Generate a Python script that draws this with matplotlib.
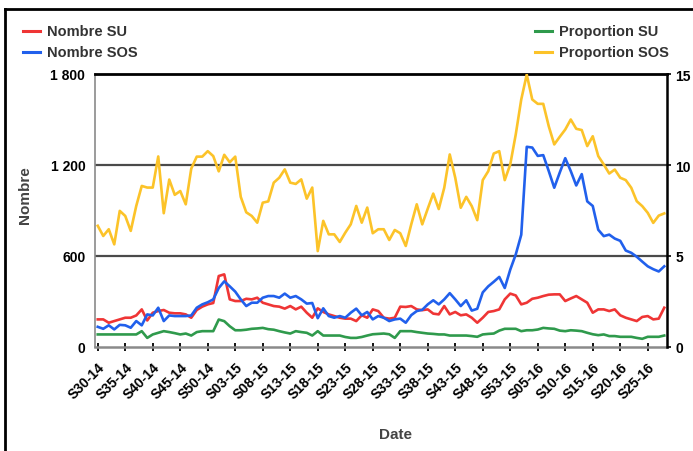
import matplotlib
matplotlib.use("Agg")
import matplotlib.pyplot as plt
from matplotlib.lines import Line2D

plt.rcParams['font.family'] = ['Liberation Sans', 'DejaVu Sans']

# Weekly data, S30-14 .. S28-16 (104 weeks)
nombre_su = [182, 182, 160, 171, 182, 193, 193, 208, 248, 175, 226, 237, 244, 226, 222, 222, 215, 193, 244, 266,
             281, 290, 468, 479, 314, 303, 303, 318, 314, 325, 292, 281, 270, 266, 253, 270, 248, 266, 226, 193,
             255, 231, 215, 204, 193, 187, 187, 171, 209, 193, 248, 237, 193, 187, 193, 266, 264, 270, 248, 243,
             248, 220, 215, 270, 215, 231, 209, 215, 193, 160, 193, 231, 237, 248, 314, 352, 340, 281, 292, 318,
             325, 336, 345, 347, 347, 303, 320, 336, 314, 292, 226, 248, 248, 237, 248, 209, 193, 182, 171, 198,
             204, 182, 187, 259]
nombre_sos = [133, 120, 143, 116, 146, 143, 127, 171, 143, 215, 208, 259, 171, 208, 204, 204, 204, 208, 259, 281,
              295, 314, 389, 433, 400, 365, 314, 270, 292, 292, 325, 336, 336, 325, 352, 325, 336, 314, 286, 290,
              190, 255, 204, 193, 204, 193, 226, 253, 209, 231, 182, 204, 193, 171, 182, 187, 160, 210, 237, 245,
              281, 308, 281, 314, 355, 314, 270, 308, 240, 252, 360, 400, 430, 462, 389, 510, 610, 740, 1320, 1315,
              1260, 1265, 1160, 1050, 1150, 1245, 1160, 1065, 1140, 960, 930, 773, 731, 741, 715, 700, 636, 621, 595, 563,
              532, 513, 498, 532]
proportion_su = [0.69, 0.69, 0.69, 0.69, 0.69, 0.69, 0.69, 0.69, 0.87, 0.5, 0.69, 0.78, 0.87, 0.82, 0.76, 0.69, 0.74, 0.63, 0.82, 0.87,
                 0.87, 0.87, 1.51, 1.42, 1.14, 0.92, 0.92, 0.95, 1.0, 1.02, 1.05, 0.98, 0.95, 0.87, 0.8, 0.74, 0.87, 0.82, 0.78, 0.63,
                 0.87, 0.63, 0.63, 0.63, 0.63, 0.55, 0.5, 0.5, 0.55, 0.63, 0.7, 0.72, 0.74, 0.7, 0.5, 0.87, 0.87, 0.87, 0.82, 0.78,
                 0.74, 0.72, 0.69, 0.69, 0.63, 0.63, 0.63, 0.63, 0.6, 0.56, 0.69, 0.72, 0.74, 0.9, 1.0, 1.0, 1.0, 0.87, 0.92, 0.92,
                 0.96, 1.05, 1.02, 1.0, 0.9, 0.87, 0.92, 0.9, 0.87, 0.78, 0.7, 0.65, 0.69, 0.6, 0.6, 0.56, 0.56, 0.56, 0.5, 0.45,
                 0.56, 0.56, 0.56, 0.63]
proportion_sos = [6.66, 6.1, 6.47, 5.64, 7.48, 7.2, 6.38, 7.75, 8.85, 8.76, 8.76, 10.47, 7.35, 9.2, 8.36, 8.57, 7.84, 9.8, 10.46, 10.46,
                  10.76, 10.49, 9.65, 10.56, 10.15, 10.46, 8.25, 7.4, 7.2, 6.83, 7.93, 8.0, 9.03, 9.3, 9.76, 9.03, 8.96, 9.21, 8.15, 8.76,
                  5.27, 6.93, 6.19, 6.19, 5.77, 6.28, 6.74, 7.75, 6.83, 7.66, 6.25, 6.47, 6.47, 5.88, 6.43, 6.25, 5.55, 6.74, 7.84, 6.74,
                  7.6, 8.43, 7.58, 8.75, 10.58, 9.3, 7.65, 8.25, 7.74, 6.97, 9.17, 9.66, 10.63, 10.76, 9.17, 10.03, 11.68, 13.6, 14.97, 13.6,
                  13.36, 13.36, 12.13, 11.13, 11.55, 11.95, 12.5, 11.99, 11.92, 11.04, 11.58, 10.49, 10.03, 9.53, 9.75, 9.3, 9.17, 8.75, 8.01, 7.74,
                  7.37, 6.82, 7.22, 7.34]
tick_labels = ["S30-14", "S35-14", "S40-14", "S45-14", "S50-14", "S03-15", "S08-15", "S13-15", "S18-15", "S23-15",
               "S28-15", "S33-15", "S38-15", "S43-15", "S48-15", "S53-15", "S05-16", "S10-16", "S15-16", "S20-16", "S25-16"]
left_ticks = [0, 600, 1200, 1800]
left_tick_labels = ["0", "600", "1 200", "1 800"]
right_ticks = [0, 5, 10, 15]

RED, BLUE, GREEN, YELLOW = '#ef3535', '#2160ec', '#2f9a4c', '#fcc329'
W, H = 693, 452
fig = plt.figure(figsize=(W / 100, H / 100), dpi=100)
ax = fig.add_axes([95 / W, 1 - 348 / H, (667 - 95) / W, (348 - 75) / H])
ax2 = ax.twinx()

x = list(range(len(nombre_su)))
lw = 1.9
ax.plot(x, nombre_su, color=RED, lw=lw, zorder=3)
ax.plot(x, nombre_sos, color=BLUE, lw=lw, zorder=3)
ax2.plot(x, proportion_su, color=GREEN, lw=lw)
ax2.plot(x, proportion_sos, color=YELLOW, lw=lw)

ax.set_xlim(-0.5, 103.5)
ax.set_ylim(0, 1800)
ax2.set_ylim(0, 15)

for y in [600, 1200]:
    ax.axhline(y, color='#4a4a4a', lw=1.6, zorder=1)

ax.set_yticks(left_ticks)
ax.set_yticklabels(left_tick_labels)
ax2.set_yticks(right_ticks)
ax.tick_params(axis='y', length=0, pad=7, labelsize=10, labelcolor='black')
ax2.tick_params(axis='y', length=3, width=1.2, pad=3, labelsize=10, labelcolor='black', direction='out')

ax.set_xticks(list(range(0, 101, 5)))
ax.set_xticklabels(tick_labels, rotation=45, ha='right', va='top', rotation_mode='anchor')
ax.tick_params(axis='x', length=6, width=1.3, direction='inout', color='black', labelsize=10, pad=6)
for lab in ax.get_xticklabels() + ax.get_yticklabels() + ax2.get_yticklabels():
    lab.set_fontweight('bold')

for sp in ['left', 'right', 'top', 'bottom']:
    ax.spines[sp].set_visible(False)
    ax2.spines[sp].set_visible(False)
ax.spines['left'].set_visible(True)
ax.spines['left'].set_color('#8a8a8a')
ax.spines['left'].set_linewidth(1.2)
ax.spines['bottom'].set_visible(True)
ax.spines['bottom'].set_color('#8a8a8a')
ax.spines['bottom'].set_linewidth(1.8)
ax.spines['top'].set_visible(True)
ax.spines['top'].set_color('black')
ax.spines['top'].set_linewidth(2)
ax2.spines['right'].set_visible(True)
ax2.spines['right'].set_color('black')
ax2.spines['right'].set_linewidth(1.8)

fig.text(25 / W, 1 - 195 / H, 'Nombre', rotation=90, ha='center', va='center',
         fontsize=11, fontweight='bold', color='#444444')
fig.text(395 / W, 1 - 435 / H, 'Date', ha='center', va='center',
         fontsize=11, fontweight='bold', color='#444444')

# legends
def leg(x0, y0, color, label):
    fig.add_artist(Line2D([x0 / W, (x0 + 17) / W], [1 - y0 / H] * 2, color=color, lw=2.2))
    fig.text((x0 + 24) / W, 1 - y0 / H, label, ha='left', va='center',
             fontsize=10.5, fontweight='bold', color='#333333')

leg(23, 32, RED, 'Nombre SU')
leg(23, 53, BLUE, 'Nombre SOS')
leg(535, 32, GREEN, 'Proportion SU')
leg(535, 53, YELLOW, 'Proportion SOS')

# outer frame (top and left)
fig.add_artist(Line2D([5 / W, 1], [1 - 10 / H] * 2, color='black', lw=2))
fig.add_artist(Line2D([5 / W] * 2, [0, 1 - 10 / H], color='black', lw=2))

fig.savefig('out.png', dpi=100)
